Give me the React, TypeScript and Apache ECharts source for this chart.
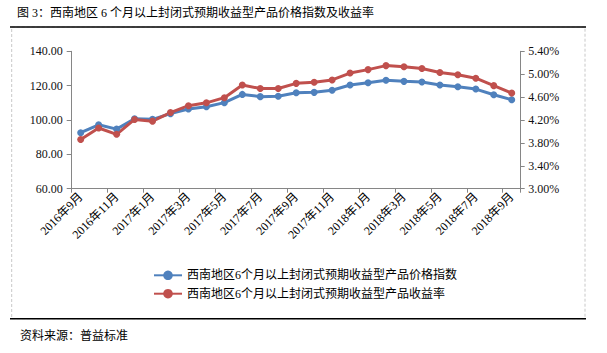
import React, { useEffect, useRef } from "react";
import * as echarts from "echarts";

const categories = [
  "2016年9月", "2016年10月", "2016年11月", "2016年12月",
  "2017年1月", "2017年2月", "2017年3月", "2017年4月", "2017年5月", "2017年6月",
  "2017年7月", "2017年8月", "2017年9月", "2017年10月", "2017年11月", "2017年12月",
  "2018年1月", "2018年2月", "2018年3月", "2018年4月", "2018年5月", "2018年6月",
  "2018年7月", "2018年8月", "2018年9月",
];

const priceIndex = [
  92.6, 97.2, 94.7, 100.7, 100.4, 103.7, 106.4, 107.7, 110.1, 114.9,
  113.6, 113.8, 115.9, 116.1, 117.3, 120.4, 121.7, 123.1, 122.5, 122.1,
  120.4, 119.4, 118.0, 114.7, 111.8,
];

const yieldRate = [
  3.86, 4.06, 3.95, 4.21, 4.18, 4.33, 4.45, 4.5, 4.59, 4.81,
  4.75, 4.75, 4.84, 4.86, 4.9, 5.02, 5.08, 5.15, 5.13, 5.1,
  5.03, 4.99, 4.93, 4.8, 4.67,
];

const seriesNames = [
  "西南地区6个月以上封闭式预期收益型产品价格指数",
  "西南地区6个月以上封闭式预期收益型产品收益率",
];

const titleText = "图 3：西南地区 6 个月以上封闭式预期收益型产品价格指数及收益率";
const sourceText = "资料来源：普益标准";

const FONT = "'Liberation Serif', 'Noto Sans CJK SC', serif";

export default function App() {
  const ref = useRef<HTMLDivElement>(null);

  useEffect(() => {
    if (!ref.current) return;
    const chart = echarts.init(ref.current, null, { renderer: "svg" });
    const axisLine = { show: true, lineStyle: { color: "#868686", width: 1 } };
    chart.setOption({
      animation: false,
      backgroundColor: "#fff",
      textStyle: { fontFamily: FONT },
      grid: { left: 71.7, right: 86.3, top: 51.3, bottom: 164.3, containLabel: false },
      legend: {
        orient: "vertical",
        left: 148,
        top: 264.3,
        itemWidth: 28,
        itemHeight: 12,
        itemGap: 6.4,
        textStyle: { fontFamily: FONT, fontSize: 12, color: "#000" },
        data: seriesNames,
      },
      xAxis: {
        type: "category",
        data: categories,
        boundaryGap: true,
        axisLine,
        axisTick: { show: true, interval: 1, length: 4, lineStyle: { color: "#868686" } },
        axisLabel: {
          interval: 1,
          rotate: 45,
          margin: 6,
          fontSize: 12,
          fontFamily: FONT,
          color: "#000",
        },
        splitLine: { show: false },
      },
      yAxis: [
        {
          type: "value",
          min: 60,
          max: 140,
          interval: 20,
          position: "left",
          axisLine,
          axisTick: { show: true, length: 5, lineStyle: { color: "#868686" } },
          axisLabel: {
            margin: 9,
            fontSize: 12,
            fontFamily: FONT,
            color: "#111",
            formatter: (v: number) => v.toFixed(2),
          },
          splitLine: { show: false },
        },
        {
          type: "value",
          min: 3.0,
          max: 5.4,
          interval: 0.4,
          position: "right",
          axisLine,
          axisTick: { show: true, length: 4, lineStyle: { color: "#868686" } },
          axisLabel: {
            margin: 7.5,
            fontSize: 12,
            fontFamily: FONT,
            color: "#111",
            formatter: (v: number) => v.toFixed(2) + "%",
          },
          splitLine: { show: false },
        },
      ],
      series: [
        {
          name: seriesNames[0],
          type: "line",
          yAxisIndex: 0,
          data: priceIndex,
          symbol: "circle",
          symbolSize: 7,
          lineStyle: { color: "#4F81BD", width: 3 },
          itemStyle: { color: "#4F81BD" },
        },
        {
          name: seriesNames[1],
          type: "line",
          yAxisIndex: 1,
          data: yieldRate,
          symbol: "circle",
          symbolSize: 7,
          lineStyle: { color: "#C0504D", width: 3 },
          itemStyle: { color: "#C0504D" },
        },
      ],
      graphic: [
        {
          type: "rect",
          shape: { x: 11.7, y: 27, width: 573.3, height: 291.7 },
          style: { fill: "none", stroke: "#c8c8c8", lineWidth: 1, lineDash: [3, 2] },
          silent: true,
          z: -1,
        },
        {
          type: "line",
          shape: { x1: 10, y1: 27, x2: 586, y2: 27 },
          style: { stroke: "#000", lineWidth: 1.5 },
          silent: true,
        },
        {
          type: "line",
          shape: { x1: 10, y1: 318.7, x2: 586, y2: 318.7 },
          style: { stroke: "#000", lineWidth: 1.5 },
          silent: true,
        },
        {
          type: "text",
          x: 17,
          y: 12.7,
          style: {
            text: titleText,
            fontFamily: FONT,
            fontSize: 12,
            fill: "#000",
            textVerticalAlign: "middle",
            verticalAlign: "middle",
          },
          silent: true,
        },
        {
          type: "text",
          x: 20,
          y: 335.7,
          style: {
            text: sourceText,
            fontFamily: FONT,
            fontSize: 12,
            fill: "#000",
            verticalAlign: "middle",
          },
          silent: true,
        },
      ],
    });
    return () => chart.dispose();
  }, []);

  return (
    <div
      ref={ref}
      style={{ position: "absolute", left: 0, top: 0, width: 607, height: 353 }}
    />
  );
}
